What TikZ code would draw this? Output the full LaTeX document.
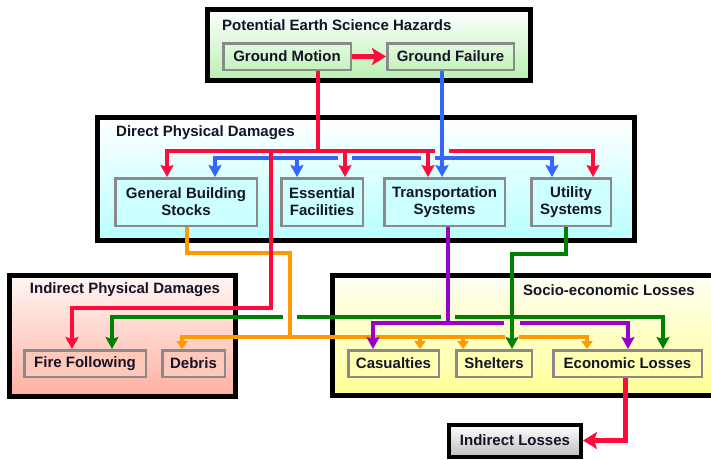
\documentclass[tikz,border=0pt]{standalone}
\usepackage{fontspec}
\setmainfont{Liberation Sans}
\usetikzlibrary{arrows.meta,calc}
\definecolor{txt}{HTML}{141428}
\definecolor{boxgrey}{HTML}{8A8A8A}
\definecolor{redl}{RGB}{255,10,60}
\definecolor{bluel}{HTML}{3366FF}
\definecolor{orangel}{HTML}{FF9900}
\definecolor{greenl}{HTML}{008000}
\definecolor{purplel}{HTML}{9900CC}
\begin{document}
\begin{tikzpicture}[x=1pt,y=-1pt,
  every node/.style={inner sep=0pt,font=\bfseries\fontsize{15}{17}\selectfont,text=txt},
  grp/.style={draw=black,line width=5pt},
  box/.style={draw=boxgrey,line width=2.5pt,align=center,minimum height=26.5pt},
  tallbox/.style={box,minimum height=47.5pt},
  ln/.style={line width=4.5pt},
  thin/.style={line width=3.5pt,draw=orangel},
  tip/.style={-{Stealth[width=13pt,length=12pt,inset=2pt]}},
  otip/.style={-{Triangle[width=11pt,length=8pt]}},
  bigtip/.style={-{Stealth[width=17pt,length=14pt,inset=3pt]}}
]
\useasboundingbox (0,0) rectangle (711,459);
% group boxes
\node[grp,shade,top color=white,bottom color={rgb,255:red,184;green,240;blue,176},minimum width=323pt,minimum height=71pt] (G1) at (369,45) {};
\node[grp,shade,top color=white,bottom color={rgb,255:red,184;green,255;blue,255},minimum width=537pt,minimum height=123pt] (G2) at (366,179) {};
\node[grp,shade,top color={rgb,255:red,255;green,246;blue,244},bottom color={rgb,255:red,255;green,176;blue,160},minimum width=226pt,minimum height=121pt] (G3) at (122.5,336) {};
\node[grp,shade,top color={rgb,255:red,255;green,255;blue,244},bottom color={rgb,255:red,255;green,255;blue,150},minimum width=387.5pt,minimum height=120pt] (G4) at (526.25,335.5) {};
% titles
\node[anchor=west] (T1) at (222,25) {Potential Earth Science Hazards};
\node[anchor=west] (T2) at (116,133) {Direct Physical Damages};
\node (T3) at (125,290) {Indirect Physical Damages};
\node[anchor=east] (T4) at (695,290) {Socio-economic Losses};
% inner boxes
\node[box,shade,top color={rgb,255:red,226;green,250;blue,222},bottom color={rgb,255:red,196;green,242;blue,188},minimum width=127.5pt] (GM) at (287,56.5) {Ground Motion};
\node[box,shade,top color={rgb,255:red,226;green,250;blue,222},bottom color={rgb,255:red,196;green,242;blue,188},minimum width=126.5pt] (GF) at (450.5,56.5) {Ground Failure};
\node[tallbox,fill={rgb,255:red,204;green,255;blue,255},minimum width=141.5pt] (GBS) at (186,202) {General Building\\Stocks};
\node[tallbox,fill={rgb,255:red,204;green,255;blue,255},minimum width=81.5pt] (EF) at (322,202) {Essential\\Facilities};
\node[tallbox,fill={rgb,255:red,204;green,255;blue,255},minimum width=120.5pt] (TS) at (444.5,202) {Transportation\\Systems};
\node[tallbox,fill={rgb,255:red,204;green,255;blue,255},minimum width=79.5pt] (US) at (571,202) {Utility\\Systems};
\node[box,fill={rgb,255:red,255;green,200;blue,184},minimum width=121.5pt] (FF) at (85,363.5) {Fire Following};
\node[box,fill={rgb,255:red,255;green,200;blue,184},minimum width=62.5pt] (DB) at (193.5,363.5) {Debris};
\node[box,fill={rgb,255:red,255;green,255;blue,176},minimum width=90.5pt] (CA) at (393.5,363.5) {Casualties};
\node[box,fill={rgb,255:red,255;green,255;blue,176},minimum width=75.5pt] (SH) at (494,363.5) {Shelters};
\node[box,fill={rgb,255:red,255;green,255;blue,176},minimum width=148.5pt] (EL) at (627.5,363.5) {Economic Losses};
\node[draw=black,line width=4pt,shade,top color=white,bottom color={rgb,255:red,190;green,190;blue,190},minimum width=132pt,minimum height=32pt] (IL) at (515,440.5) {Indirect Losses};
% junction coordinates
\coordinate (rj) at (318,151);
\coordinate (rA) at (167,151);
\coordinate (rB) at (345,151);
\coordinate (rC) at (428,151);
\coordinate (rD) at (593,151);
\coordinate (rE) at (271,151);
\coordinate (rg1) at (435,151);
\coordinate (rg2) at (449,151);
\coordinate (rF) at (271,308);
\coordinate (rG) at (72,308);
\coordinate (bj) at (442,158);
\coordinate (bA) at (215,158);
\coordinate (bB) at (297,158);
\coordinate (bD) at (552,158);
\coordinate (bg1) at (338,158);
\coordinate (bg2) at (352,158);
\coordinate (bg3) at (421,158);
\coordinate (bg4) at (435,158);
\coordinate (o1) at (187,253);
\coordinate (o2) at (290,253);
\coordinate (o3) at (290,337);
\coordinate (oA) at (182,337);
\coordinate (oB) at (420,337);
\coordinate (oC) at (463,337);
\coordinate (oD) at (587,337);
\coordinate (og1) at (505,337);
\coordinate (og2) at (519,337);
\coordinate (g1) at (566,254);
\coordinate (g2) at (512,254);
\coordinate (gA) at (112,317);
\coordinate (gB) at (663,317);
\coordinate (gg1) at (283,317);
\coordinate (gg2) at (297,317);
\coordinate (gg3) at (441,317);
\coordinate (gg4) at (455,317);
\coordinate (p0) at (448,323);
\coordinate (pA) at (373,323);
\coordinate (pB) at (628,323);
\coordinate (pg1) at (504,323);
\coordinate (pg2) at (520,323);
\coordinate (rz) at (625,440.5);
% orange
\draw[thin] (o1 |- GBS.south) -- (o1) -- (o2) -- (o3);
\draw[thin,otip] (og1) -- (oA) -- (oA |- DB.north);
\draw[thin,otip] (og2) -- (oD) -- (oD |- EL.north);
\draw[thin,otip] (oB) -- (oB |- CA.north);
\draw[thin,otip] (oC) -- (oC |- SH.north);
% green
\draw[ln,draw=greenl,line width=4pt,tip] (g1 |- US.south) -- (g1) -- (g2) -- (g2 |- SH.north);
\draw[ln,draw=greenl,line width=4pt,tip] (gg1) -- (gA) -- (gA |- FF.north);
\draw[ln,draw=greenl,line width=4pt] (gg2) -- (gg3);
\draw[ln,draw=greenl,line width=4pt,tip] (gg4) -- (gB) -- (gB |- EL.north);
% purple
\draw[ln,draw=purplel,line width=4pt] (p0 |- TS.south) -- (p0);
\draw[ln,draw=purplel,line width=4pt,tip] (pg1) -- (pA) -- (pA |- CA.north);
\draw[ln,draw=purplel,line width=4pt,tip] (pg2) -- (pB) -- (pB |- EL.north);
% blue
\draw[ln,draw=bluel,line width=4pt,tip] (bj |- GF.south) -- (bj |- TS.north);
\draw[ln,draw=bluel,line width=4pt,tip] (bg1) -- (bA) -- (bA |- GBS.north);
\draw[ln,draw=bluel,line width=4pt,tip] (bB) -- (bB |- EF.north);
\draw[ln,draw=bluel,line width=4pt] (bg2) -- (bg3);
\draw[ln,draw=bluel,line width=4pt,tip] (bg4) -- (bD) -- (bD |- US.north);
% red
\draw[ln,draw=redl,line width=5pt,bigtip] (GM.east) -- (GF.west);
\draw[ln,draw=redl] (rj |- GM.south) -- (rj);
\draw[ln,draw=redl,tip] (rg1) -- (rA) -- (rA |- GBS.north);
\draw[ln,draw=redl,tip] (rg2) -- (rD) -- (rD |- US.north);
\draw[ln,draw=redl,tip] (rB) -- (rB |- EF.north);
\draw[ln,draw=redl,tip] (rC) -- (rC |- TS.north);
\draw[ln,draw=redl,tip] (rE) -- (rF) -- (rG) -- (rG |- FF.north);
\draw[ln,draw=redl,line width=5pt,bigtip] (rz |- EL.south) -- (rz) -- (IL.east);
\end{tikzpicture}
\end{document}
